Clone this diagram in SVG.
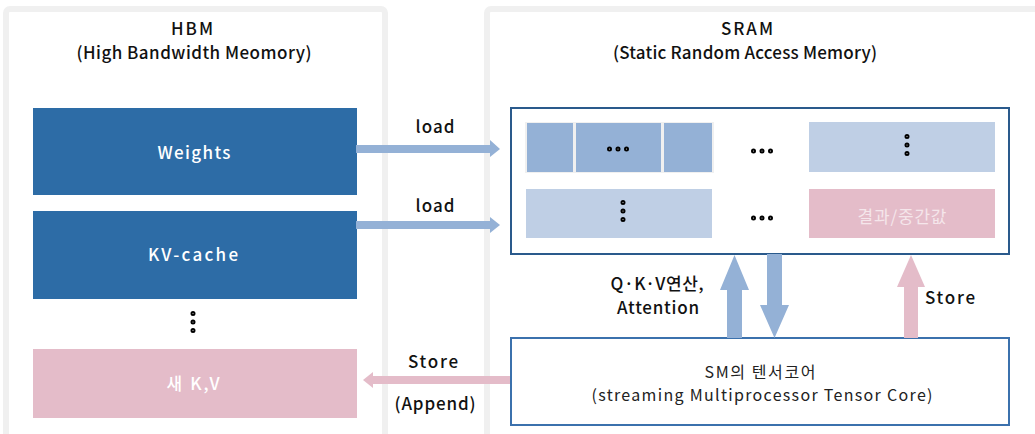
<svg xmlns="http://www.w3.org/2000/svg" width="1035" height="434" viewBox="0 0 1035 434">
<style>
text{font-family:"Noto Sans CJK KR","Noto Sans",sans-serif;text-anchor:middle;}
.t{font-size:17px;font-weight:500;fill:#111;}
.w{font-size:17px;font-weight:500;fill:#fff;}
.r{font-size:16px;font-weight:400;fill:#222;}
.panel{fill:#fff;stroke:#f0f0f0;stroke-width:6;}
.dark{fill:#2d6ca6;}
.pink{fill:#e4bcc9;}
.mid{fill:#94b1d6;}
.light{fill:#bfcfe5;}
.dot{fill:#fff;stroke:#000;stroke-width:2;}
.ab{fill:#94b1d6;}
.ap{fill:#e4bcc9;}
</style>
<defs>
<g id="vd"><circle class="dot" cx="0" cy="-8.5" r="1.5"/><circle class="dot" cx="0" cy="0" r="1.5"/><circle class="dot" cx="0" cy="8.5" r="1.5"/></g>
<g id="hd"><circle class="dot" cx="-8.5" cy="0" r="1.5"/><circle class="dot" cx="0" cy="0" r="1.5"/><circle class="dot" cx="8.5" cy="0" r="1.5"/></g>
</defs>
<rect width="1035" height="434" fill="#fff"/>
<g id="hbm-panel">
<rect class="panel" x="6" y="9" width="379" height="450" rx="4"/>
<text class="t" x="192" y="35" font-size="19" textLength="42" lengthAdjust="spacing">HBM</text>
<text class="t" x="194" y="59" textLength="235" lengthAdjust="spacing">(High Bandwidth Meomory)</text>
</g>
<g id="sram-panel">
<rect class="panel" x="487" y="9" width="560" height="450" rx="4"/>
<text class="t" x="747" y="35" font-size="19" textLength="52" lengthAdjust="spacing">SRAM</text>
<text class="t" x="745" y="59" textLength="264" lengthAdjust="spacing">(Static Random Access Memory)</text>
</g>
<g id="weights">
<rect class="dark" x="33" y="108" width="324" height="87"/>
<text class="w" x="194" y="159" textLength="73" lengthAdjust="spacing">Weights</text>
</g>
<g id="kv-cache">
<rect class="dark" x="33" y="211" width="324" height="88"/>
<text class="w" x="193" y="261" textLength="90" lengthAdjust="spacing">KV-cache</text>
</g>
<g id="hbm-dots"><use href="#vd" x="193" y="322"/></g>
<g id="new-kv">
<rect class="pink" x="33" y="349" width="324" height="69"/>
<text class="w" x="193" y="390" textLength="53" lengthAdjust="spacing">새 K,V</text>
</g>
<g id="sram-box">
<rect x="511" y="108" width="498" height="146" fill="#fff" stroke="#2a5a8c" stroke-width="2"/>
<g id="row1-left">
<rect x="525" y="122" width="189" height="51" fill="#f0f0f0"/>
<rect class="mid" x="527" y="123" width="46" height="49"/>
<rect class="mid" x="576" y="123" width="85" height="49"/>
<rect class="mid" x="664" y="123" width="48" height="49"/>
<use href="#hd" x="618" y="149"/>
</g>
<g id="row1-dots"><use href="#hd" x="762" y="151"/></g>
<g id="row1-right">
<rect class="light" x="809" y="122" width="186" height="50"/>
<use href="#vd" x="907" y="145"/>
</g>
<g id="row2-left">
<rect class="light" x="526" y="189" width="186" height="49"/>
<use href="#vd" x="623" y="211"/>
</g>
<g id="row2-dots"><use href="#hd" x="762" y="218"/></g>
<g id="result">
<rect class="pink" x="809" y="189" width="186" height="49"/>
<text x="902" y="223" font-size="17" fill="#f5e6eb" textLength="89" lengthAdjust="spacing">결과/중간값</text>
</g>
</g>
<g id="sm-core">
<rect x="511" y="338" width="498" height="87" fill="#fff" stroke="#3b71ad" stroke-width="2"/>
<text class="r" x="760" y="378" textLength="111" lengthAdjust="spacing">SM의 텐서코어</text>
<text class="r" x="762" y="401" textLength="341" lengthAdjust="spacing">(streaming Multiprocessor Tensor Core)</text>
</g>
<g id="connectors">
<polygon class="ab" points="356,145 490,145 490,140 500,149 490,157 490,153 356,153"/>
<text class="t" x="435" y="133" textLength="39" lengthAdjust="spacing">load</text>
<polygon class="ab" points="356,221 490,221 490,217 500,225 490,233 490,229 356,229"/>
<text class="t" x="435" y="212" textLength="39" lengthAdjust="spacing">load</text>
<polygon class="ab" points="727,338 727,290 720,290 734.5,255 749,290 742,290 742,338"/>
<polygon class="ab" points="767,254 782,254 782,305 789,305 774.5,338 760,305 767,305"/>
<text class="t" x="657" y="290" font-size="16" textLength="93" lengthAdjust="spacing">Q·K·V연산,</text>
<text class="t" x="658" y="314" font-size="16" textLength="82" lengthAdjust="spacing">Attention</text>
<polygon class="ap" points="904,338 904,287 897,287 911,255 925,287 918,287 918,338"/>
<text class="t" x="950" y="304" textLength="50" lengthAdjust="spacing">Store</text>
<polygon class="ap" points="510,376 373,376 373,372 363,380 373,388 373,384 510,384"/>
<text class="t" x="433" y="368" textLength="50" lengthAdjust="spacing">Store</text>
<text class="t" x="435" y="410" textLength="81" lengthAdjust="spacing">(Append)</text>
</g>
</svg>
